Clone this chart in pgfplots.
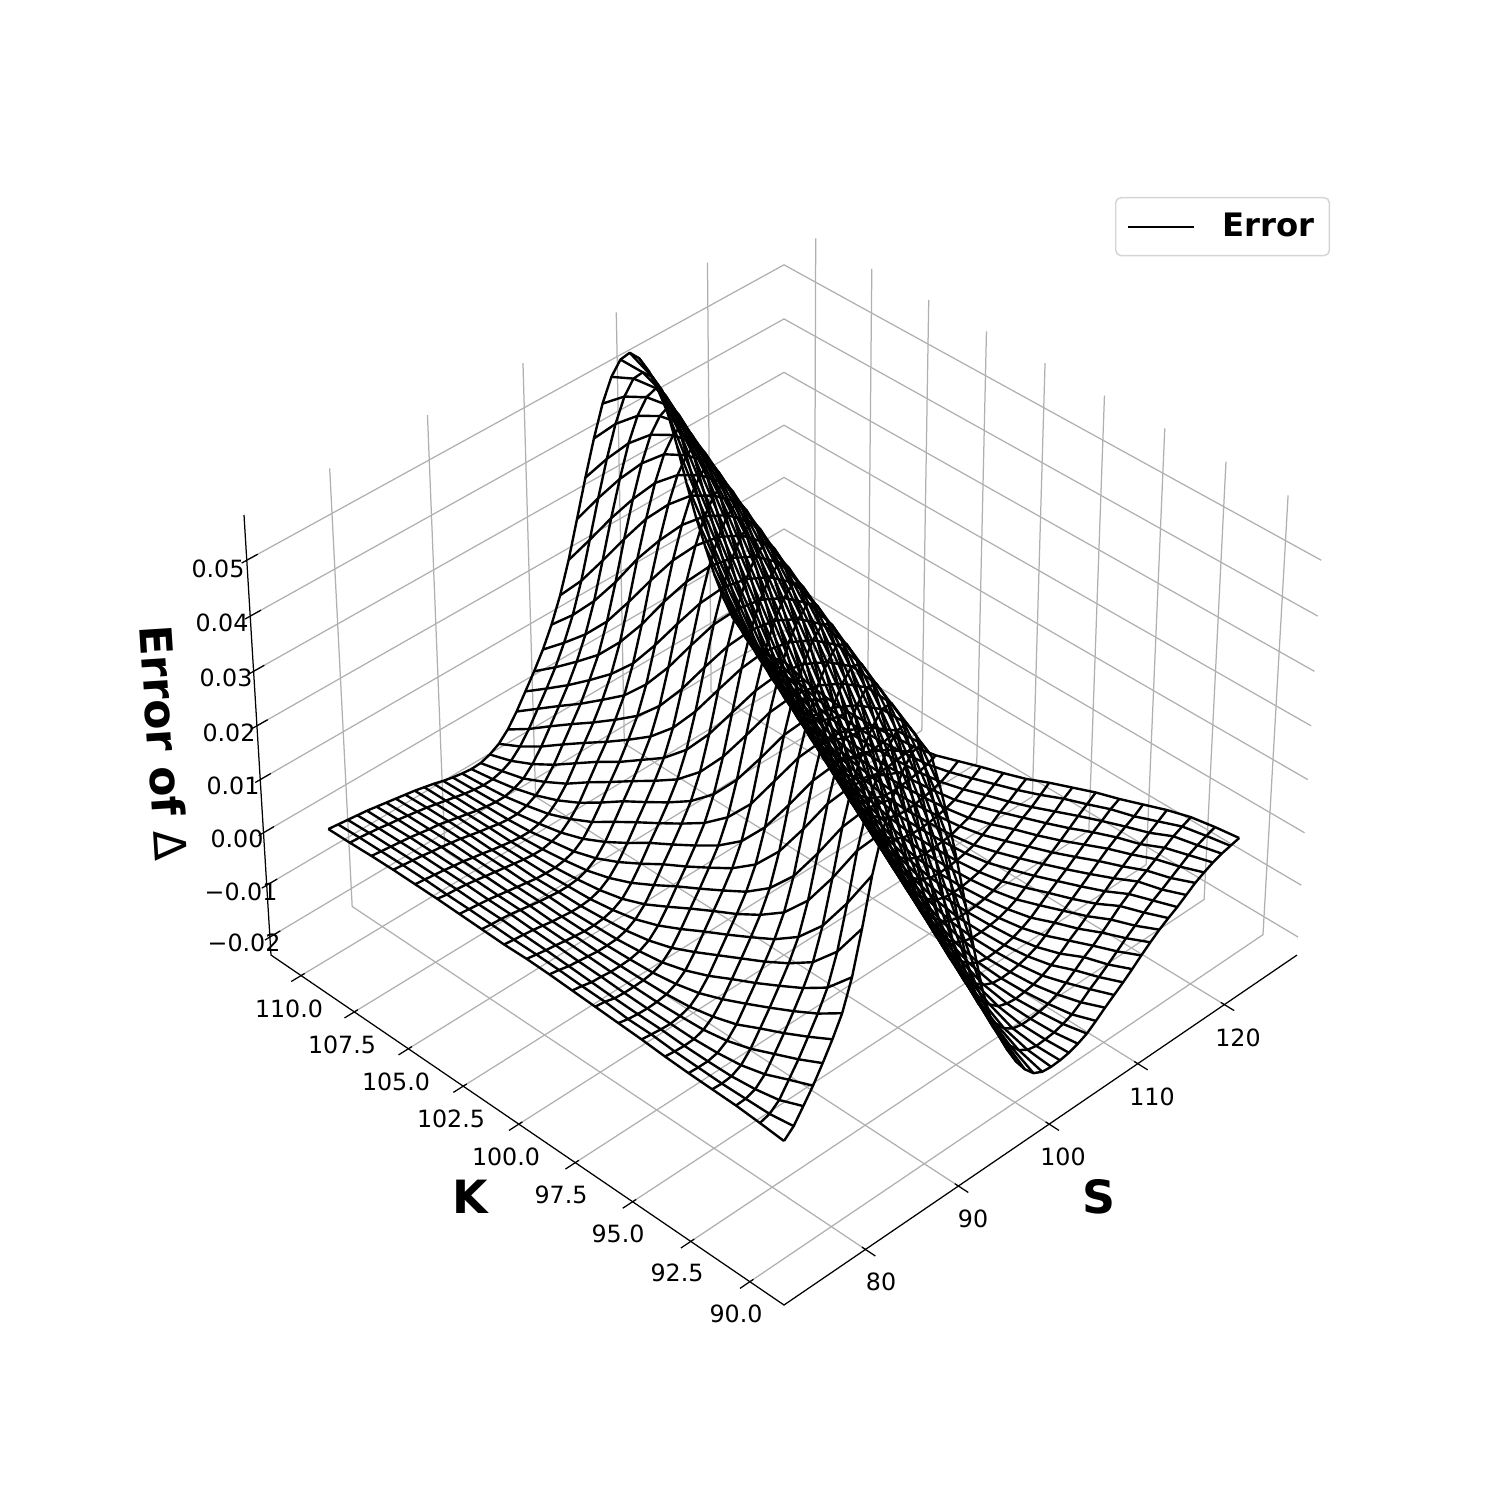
\documentclass[border=0pt]{standalone}
\usepackage{fontspec}
\setmainfont{DejaVu Sans}
\usepackage{pgfplots}
\usepackage{pgfplotstable}
\pgfplotsset{compat=1.18}
\definecolor{gridc}{HTML}{B0B0B0}
\definecolor{legc}{HTML}{D5D5D5}
% Error of Delta, in units of 1e-4: rows K = 90..110, columns S = 75..125
\pgfplotstableread{
K 75 76 77 78 79 80 81 82 83 84 85 86 87 88 89 90 91 92 93 94 95 96 97 98 99 100 101 102 103 104 105 106 107 108 109 110 111 112 113 114 115 116 117 118 119 120 121 122 123 124 125
90 -14 2 27 53 83 115 151 205 281 365 430 478 514 538 542 511 445 372 289 200 110 26 -40 -85 -124 -157 -183 -202 -211 -213 -212 -209 -203 -195 -182 -168 -155 -142 -128 -113 -99 -86 -75 -65 -53 -41 -32 -24 -18 -14 -10
91 -10 -5 9 35 61 91 122 158 212 288 371 435 481 516 539 541 510 444 372 291 204 116 32 -36 -80 -119 -151 -178 -198 -209 -213 -212 -210 -205 -198 -186 -172 -160 -147 -133 -119 -106 -92 -80 -70 -59 -48 -37 -29 -22 -16
92 -7 -6 0 16 42 69 98 129 165 220 295 375 438 485 518 540 540 507 443 373 293 207 121 37 -30 -75 -114 -147 -175 -196 -208 -212 -212 -210 -206 -199 -188 -175 -161 -150 -136 -122 -107 -95 -82 -72 -61 -50 -39 -31 -24
93 -6 -7 -5 4 23 49 76 105 135 172 227 301 379 441 488 521 542 538 505 442 373 295 211 125 44 -24 -70 -109 -144 -170 -190 -205 -211 -213 -211 -208 -202 -193 -182 -168 -156 -143 -130 -117 -103 -91 -79 -70 -59 -48 -37
94 -5 -6 -6 -2 9 28 55 82 110 140 178 233 307 383 444 491 523 543 537 503 440 373 297 214 131 50 -17 -66 -105 -138 -165 -189 -203 -211 -213 -212 -209 -204 -197 -186 -172 -160 -148 -135 -122 -108 -95 -84 -74 -65 -53
95 -3 -5 -6 -5 1 14 35 61 88 116 146 184 240 313 387 447 494 525 545 536 501 440 373 298 217 135 55 -12 -61 -100 -134 -162 -185 -201 -210 -213 -212 -210 -206 -199 -190 -177 -164 -152 -140 -127 -114 -101 -90 -78 -69
96 0 -2 -4 -5 -2 4 18 39 66 93 120 150 189 246 319 391 451 496 528 546 535 499 439 373 300 221 140 61 -6 -57 -95 -130 -158 -182 -199 -208 -212 -212 -210 -207 -201 -193 -181 -169 -157 -145 -133 -120 -107 -95 -83
97 2 -2 -4 -5 -4 -1 7 21 44 71 98 125 155 194 251 323 395 454 499 530 548 533 498 438 373 301 223 144 67 -1 -53 -91 -126 -155 -178 -196 -207 -212 -212 -211 -208 -203 -196 -184 -173 -161 -150 -137 -125 -111 -100
98 4 2 -3 -4 -4 -3 0 8 24 48 75 101 129 159 200 258 328 398 458 502 532 549 532 496 438 374 303 226 148 72 5 -49 -87 -122 -151 -174 -192 -205 -211 -213 -212 -209 -205 -198 -188 -177 -165 -153 -143 -130 -117
99 6 3 -1 -2 -4 -4 -3 1 10 27 51 78 104 132 163 205 263 333 402 460 504 534 550 531 494 436 374 305 229 152 77 10 -45 -83 -117 -146 -170 -190 -203 -211 -213 -212 -210 -206 -201 -192 -182 -169 -159 -147 -136
100 8 5 1 -1 -3 -5 -5 -4 1 11 28 53 81 107 135 166 209 268 338 406 462 506 536 551 530 492 435 374 305 231 156 82 14 -41 -79 -113 -142 -167 -187 -201 -210 -212 -212 -210 -208 -202 -196 -184 -173 -162 -151
101 9 6 3 1 -2 -4 -6 -6 -4 1 11 30 55 83 109 137 169 213 273 343 410 466 509 539 553 530 491 436 375 307 234 160 88 19 -37 -75 -108 -137 -163 -185 -200 -208 -212 -212 -211 -208 -204 -198 -188 -177 -165
102 8 6 4 2 -1 -4 -6 -8 -8 -6 0 12 31 56 84 111 140 172 217 278 347 413 469 512 541 555 530 491 435 376 308 237 164 92 25 -33 -70 -104 -134 -159 -181 -196 -206 -212 -213 -212 -209 -205 -200 -191 -180
103 9 7 6 4 1 -2 -5 -7 -9 -9 -7 -1 11 31 58 86 113 142 175 221 282 351 417 472 515 542 555 530 490 434 376 309 238 167 96 28 -27 -66 -100 -130 -156 -178 -194 -205 -211 -213 -212 -210 -207 -202 -195
104 10 8 6 4 1 -2 -5 -8 -11 -12 -12 -9 -3 10 31 57 85 112 143 177 225 287 356 421 475 518 545 557 530 495 440 384 316 244 170 100 32 -22 -62 -96 -127 -153 -174 -190 -203 -210 -213 -212 -210 -207 -204
105 11 8 7 5 2 -1 -4 -7 -10 -13 -15 -15 -11 -5 10 30 58 86 113 144 179 228 290 360 423 478 521 547 558 531 493 442 387 317 246 174 104 37 -17 -58 -92 -123 -149 -170 -189 -202 -210 -212 -212 -211 -208
106 11 9 7 5 2 0 -4 -7 -11 -14 -17 -19 -19 -15 -7 8 29 57 85 113 145 183 232 296 365 428 483 525 550 560 531 494 444 390 321 249 178 109 42 -12 -55 -89 -119 -145 -168 -186 -200 -208 -212 -213 -212
107 11 9 7 5 2 0 -3 -6 -10 -14 -17 -21 -23 -23 -18 -9 6 28 56 84 112 146 183 235 298 367 430 485 527 551 560 535 498 448 394 324 251 179 112 47 -8 -52 -85 -116 -141 -165 -183 -198 -206 -211 -213
108 10 8 6 4 2 -1 -4 -6 -10 -14 -18 -22 -25 -27 -27 -22 -14 3 26 54 82 111 145 186 238 303 371 433 488 528 552 559 537 501 453 399 327 256 184 116 53 -3 -48 -81 -111 -138 -160 -181 -194 -205 -211
109 8 7 5 3 0 -2 -5 -8 -11 -15 -19 -23 -27 -30 -32 -31 -26 -17 0 23 51 79 109 145 187 241 307 374 436 490 530 553 555 538 505 458 405 332 260 187 121 57 2 -45 -77 -107 -134 -158 -177 -193 -203
110 7 5 3 1 -1 -4 -7 -10 -13 -16 -20 -24 -29 -33 -36 -38 -37 -31 -21 -4 20 48 76 107 144 189 245 311 378 440 494 533 555 558 539 507 463 412 341 262 189 124 61 6 -41 -74 -104 -131 -154 -174 -190
}\zdata
\pgfplotstabletranspose[colnames from=K,input colnames to=S]\zdatat{\zdata}
\begin{document}
\begin{tikzpicture}[declare function={
  xn(\s)=0.0625+(\s-75)*0.0175;
  yn(\k)=0.0625+(\k-90)*0.04375;
  zn(\e)=(\e*0.0001+0.0235)/0.0815;
  wn(\x,\y,\z)=1+0.0698*(\x+\y)-0.0535*\z;
  pu(\x,\y,\z)=784+548.8*(\x-\y)/wn(\x,\y,\z);
  pv(\x,\y,\z)=(1305-283.3*(\x+\y)-498.3*\z)/wn(\x,\y,\z);
}]
\useasboundingbox (0,0) rectangle (720pt,720pt);
\begin{axis}[
  at={(0,0)},anchor=south west,
  width=720pt,height=720pt,scale only axis,
  xmin=0,xmax=1500,ymin=0,ymax=1500,y dir=reverse,
  hide axis,clip=false,
  every axis plot/.append style={forget plot},
  legend style={at={(0.8867,0.8687)},anchor=north east,draw=legc,line width=0.7pt,
    rounded corners=2.5pt,font=\fontsize{15.5}{18}\selectfont\bfseries,
    inner xsep=5.2pt,inner ysep=5.5pt,cells={anchor=west}},
  legend image code/.code={\draw[#1] (0pt,0pt)--(32pt,0pt);\path (43pt,0pt);},
]
% grid lines
\pgfplotsset{gl/.style={gridc,line width=0.6pt,no marks},tk/.style={black,line width=0.6pt,no marks}}
\pgfplotsinvokeforeach{80,90,100,110,120}{
  \addplot[gl] table[row sep=\\,x expr={pu(xn(#1),\thisrow{b},\thisrow{c})},y expr={pv(xn(#1),\thisrow{b},\thisrow{c})}]{b c\\0 0\\1 0\\1 1\\};
  \addplot[tk] table[row sep=\\,x expr={pu(xn(#1),\thisrow{b},0)},y expr={pv(xn(#1),\thisrow{b},0)}]{b\\0.0065\\-0.018\\};
}
\pgfplotsinvokeforeach{90,92.5,95,97.5,100,102.5,105,107.5,110}{
  \addplot[gl] table[row sep=\\,x expr={pu(\thisrow{a},yn(#1),\thisrow{c})},y expr={pv(\thisrow{a},yn(#1),\thisrow{c})}]{a c\\0 0\\1 0\\1 1\\};
  \addplot[tk] table[row sep=\\,x expr={pu(\thisrow{a},yn(#1),0)},y expr={pv(\thisrow{a},yn(#1),0)}]{a\\0.0065\\-0.018\\};
}
\pgfplotsinvokeforeach{-200,-100,0,100,200,300,400,500}{
  \addplot[gl] table[row sep=\\,x expr={pu(\thisrow{a},\thisrow{b},zn(#1))},y expr={pv(\thisrow{a},\thisrow{b},zn(#1))}]{a b\\0 1\\1 1\\1 0\\};
  \addplot[tk] table[row sep=\\,x expr={pu(\thisrow{a},1,zn(#1))},y expr={pv(\thisrow{a},1,zn(#1))}]{a\\-0.009\\0.019\\};
}
% axis lines
\addplot[tk] table[row sep=\\,x expr={pu(\thisrow{a},\thisrow{b},\thisrow{c})},y expr={pv(\thisrow{a},\thisrow{b},\thisrow{c})}]{a b c\\1 0 0\\0 0 0\\0 1 0\\0 1 1\\};
% wireframe
\pgfplotsset{wire/.style={black,line width=1.15pt,no marks,line join=round}}
\pgfplotsinvokeforeach{75,...,125}{
  \addplot[wire] table[x expr={pu(xn(#1),yn(\thisrow{K}),zn(\thisrow{#1}))},y expr={pv(xn(#1),yn(\thisrow{K}),zn(\thisrow{#1}))}]{\zdata};
}
\pgfplotsinvokeforeach{90,...,110}{
  \addplot[wire] table[x expr={pu(xn(\thisrow{S}),yn(#1),zn(\thisrow{#1}))},y expr={pv(xn(\thisrow{S}),yn(#1),zn(\thisrow{#1}))}]{\zdatat};
}
\addlegendimage{black,line width=0.95pt}
\addlegendentry{Error}
% tick labels
\tikzset{tl/.style={font=\fontsize{11.4}{13}\selectfont,inner sep=0pt,anchor=center}}
\node[tl] at (axis cs:289,1009) {110.0};
\node[tl] at (axis cs:342,1045) {107.5};
\node[tl] at (axis cs:396,1082) {105.0};
\node[tl] at (axis cs:451,1119) {102.5};
\node[tl] at (axis cs:506,1157) {100.0};
\node[tl] at (axis cs:561,1195) {97.5};
\node[tl] at (axis cs:618,1234) {95.0};
\node[tl] at (axis cs:677,1273) {92.5};
\node[tl] at (axis cs:736,1314) {90.0};
\node[tl] at (axis cs:881,1282) {80};
\node[tl] at (axis cs:973,1219) {90};
\node[tl] at (axis cs:1063,1157) {100};
\node[tl] at (axis cs:1152,1097) {110};
\node[tl] at (axis cs:1238,1038) {120};
\node[tl] at (axis cs:218,569) {0.05};
\node[tl] at (axis cs:222,623) {0.04};
\node[tl] at (axis cs:226,678) {0.03};
\node[tl] at (axis cs:229,733) {0.02};
\node[tl] at (axis cs:233,786) {0.01};
\node[tl] at (axis cs:237,839) {0.00};
\node[tl] at (axis cs:241,892) {−0.01};
\node[tl] at (axis cs:244,943) {−0.02};
\node[inner sep=0pt,font=\fontsize{22}{26}\selectfont\bfseries] at (axis cs:470,1197) {K};
\node[inner sep=0pt,font=\fontsize{22}{26}\selectfont\bfseries] at (axis cs:1099,1197) {S};
\node[inner sep=0pt,rotate=-86.3,font=\fontsize{21.2}{24}\selectfont] at (axis cs:164,743) {\textbf{Error of} Δ};
\end{axis}
\end{tikzpicture}
\end{document}
